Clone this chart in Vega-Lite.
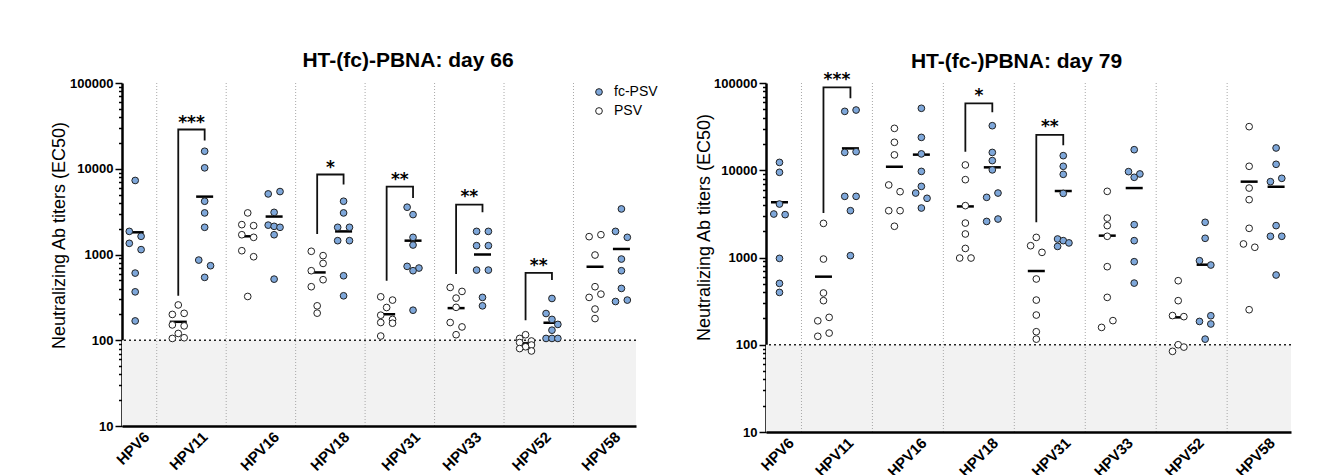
{
  "$schema": "https://vega.github.io/schema/vega-lite/v6.json",
  "background": "white",
  "padding": {"left": 50, "top": 50, "right": 5, "bottom": 5},
  "bounds": "flush",
  "spacing": 130,
  "config": {"font": "Liberation Sans", "view": {"stroke": null}},
  "datasets": {
    "groups": [{"g":"HPV6"},{"g":"HPV11"},{"g":"HPV16"},{"g":"HPV18"},{"g":"HPV31"},{"g":"HPV33"},{"g":"HPV52"}],
    "points": [
      {"p":"d66","g":"HPV6","col":"fc-PSV","v":7300,"lane":0},{"p":"d66","g":"HPV6","col":"fc-PSV","v":1860,"lane":-1},{"p":"d66","g":"HPV6","col":"fc-PSV","v":1630,"lane":1},{"p":"d66","g":"HPV6","col":"fc-PSV","v":1350,"lane":-1},{"p":"d66","g":"HPV6","col":"fc-PSV","v":1140,"lane":1},{"p":"d66","g":"HPV6","col":"fc-PSV","v":607,"lane":0},{"p":"d66","g":"HPV6","col":"fc-PSV","v":367,"lane":0},{"p":"d66","g":"HPV6","col":"fc-PSV","v":168,"lane":0},
      {"p":"d66","g":"HPV11","col":"PSV","v":258,"lane":0},{"p":"d66","g":"HPV11","col":"PSV","v":206,"lane":1},{"p":"d66","g":"HPV11","col":"PSV","v":200,"lane":-1},{"p":"d66","g":"HPV11","col":"PSV","v":151,"lane":-1},{"p":"d66","g":"HPV11","col":"PSV","v":147,"lane":1},{"p":"d66","g":"HPV11","col":"PSV","v":120,"lane":0},{"p":"d66","g":"HPV11","col":"PSV","v":105,"lane":-1},{"p":"d66","g":"HPV11","col":"PSV","v":107,"lane":1},
      {"p":"d66","g":"HPV11","col":"fc-PSV","v":16000,"lane":0},{"p":"d66","g":"HPV11","col":"fc-PSV","v":10250,"lane":0},{"p":"d66","g":"HPV11","col":"fc-PSV","v":4180,"lane":0},{"p":"d66","g":"HPV11","col":"fc-PSV","v":3055,"lane":0},{"p":"d66","g":"HPV11","col":"fc-PSV","v":2075,"lane":0},{"p":"d66","g":"HPV11","col":"fc-PSV","v":861,"lane":-1},{"p":"d66","g":"HPV11","col":"fc-PSV","v":740,"lane":1},{"p":"d66","g":"HPV11","col":"fc-PSV","v":541,"lane":0},
      {"p":"d66","g":"HPV16","col":"PSV","v":3055,"lane":0},{"p":"d66","g":"HPV16","col":"PSV","v":2230,"lane":-1},{"p":"d66","g":"HPV16","col":"PSV","v":2170,"lane":1},{"p":"d66","g":"HPV16","col":"PSV","v":1700,"lane":-1},{"p":"d66","g":"HPV16","col":"PSV","v":1585,"lane":1},{"p":"d66","g":"HPV16","col":"PSV","v":1107,"lane":-1},{"p":"d66","g":"HPV16","col":"PSV","v":942,"lane":1},{"p":"d66","g":"HPV16","col":"PSV","v":324,"lane":0},
      {"p":"d66","g":"HPV16","col":"fc-PSV","v":5090,"lane":-1},{"p":"d66","g":"HPV16","col":"fc-PSV","v":5420,"lane":1},{"p":"d66","g":"HPV16","col":"fc-PSV","v":3100,"lane":0},{"p":"d66","g":"HPV16","col":"fc-PSV","v":2200,"lane":-1},{"p":"d66","g":"HPV16","col":"fc-PSV","v":2130,"lane":0},{"p":"d66","g":"HPV16","col":"fc-PSV","v":2075,"lane":1},{"p":"d66","g":"HPV16","col":"fc-PSV","v":1700,"lane":0},{"p":"d66","g":"HPV16","col":"fc-PSV","v":516,"lane":0},
      {"p":"d66","g":"HPV18","col":"PSV","v":1090,"lane":-1},{"p":"d66","g":"HPV18","col":"PSV","v":970,"lane":1},{"p":"d66","g":"HPV18","col":"PSV","v":787,"lane":1},{"p":"d66","g":"HPV18","col":"PSV","v":647,"lane":-1},{"p":"d66","g":"HPV18","col":"PSV","v":508,"lane":1},{"p":"d66","g":"HPV18","col":"PSV","v":421,"lane":-1},{"p":"d66","g":"HPV18","col":"PSV","v":252,"lane":0},{"p":"d66","g":"HPV18","col":"PSV","v":207,"lane":0},
      {"p":"d66","g":"HPV18","col":"fc-PSV","v":4180,"lane":0},{"p":"d66","g":"HPV18","col":"fc-PSV","v":3055,"lane":0},{"p":"d66","g":"HPV18","col":"fc-PSV","v":2075,"lane":-1},{"p":"d66","g":"HPV18","col":"fc-PSV","v":2075,"lane":1},{"p":"d66","g":"HPV18","col":"fc-PSV","v":1450,"lane":-1},{"p":"d66","g":"HPV18","col":"fc-PSV","v":1450,"lane":1},{"p":"d66","g":"HPV18","col":"fc-PSV","v":565,"lane":0},{"p":"d66","g":"HPV18","col":"fc-PSV","v":330,"lane":0},
      {"p":"d66","g":"HPV31","col":"PSV","v":321,"lane":-1},{"p":"d66","g":"HPV31","col":"PSV","v":294,"lane":1},{"p":"d66","g":"HPV31","col":"PSV","v":241,"lane":0},{"p":"d66","g":"HPV31","col":"PSV","v":196,"lane":-1},{"p":"d66","g":"HPV31","col":"PSV","v":175,"lane":1},{"p":"d66","g":"HPV31","col":"PSV","v":161,"lane":-1},{"p":"d66","g":"HPV31","col":"PSV","v":158,"lane":1},{"p":"d66","g":"HPV31","col":"PSV","v":112,"lane":-1},
      {"p":"d66","g":"HPV31","col":"fc-PSV","v":3560,"lane":-1},{"p":"d66","g":"HPV31","col":"fc-PSV","v":2920,"lane":0},{"p":"d66","g":"HPV31","col":"fc-PSV","v":1585,"lane":0},{"p":"d66","g":"HPV31","col":"fc-PSV","v":1290,"lane":0},{"p":"d66","g":"HPV31","col":"fc-PSV","v":727,"lane":-1},{"p":"d66","g":"HPV31","col":"fc-PSV","v":695,"lane":1},{"p":"d66","g":"HPV31","col":"fc-PSV","v":647,"lane":0},{"p":"d66","g":"HPV31","col":"fc-PSV","v":224,"lane":0},
      {"p":"d66","g":"HPV33","col":"PSV","v":413,"lane":-1},{"p":"d66","g":"HPV33","col":"PSV","v":371,"lane":1},{"p":"d66","g":"HPV33","col":"PSV","v":310,"lane":0},{"p":"d66","g":"HPV33","col":"PSV","v":242,"lane":0},{"p":"d66","g":"HPV33","col":"PSV","v":161,"lane":-1},{"p":"d66","g":"HPV33","col":"PSV","v":143,"lane":1},{"p":"d66","g":"HPV33","col":"PSV","v":116,"lane":0},
      {"p":"d66","g":"HPV33","col":"fc-PSV","v":1860,"lane":-1},{"p":"d66","g":"HPV33","col":"fc-PSV","v":1860,"lane":1},{"p":"d66","g":"HPV33","col":"fc-PSV","v":1268,"lane":-1},{"p":"d66","g":"HPV33","col":"fc-PSV","v":1268,"lane":1},{"p":"d66","g":"HPV33","col":"fc-PSV","v":658,"lane":-1},{"p":"d66","g":"HPV33","col":"fc-PSV","v":658,"lane":1},{"p":"d66","g":"HPV33","col":"fc-PSV","v":316,"lane":0},{"p":"d66","g":"HPV33","col":"fc-PSV","v":252,"lane":0},
      {"p":"d66","g":"HPV52","col":"PSV","v":116,"lane":0},{"p":"d66","g":"HPV52","col":"PSV","v":105,"lane":-1},{"p":"d66","g":"HPV52","col":"PSV","v":98,"lane":1},{"p":"d66","g":"HPV52","col":"PSV","v":94,"lane":-1},{"p":"d66","g":"HPV52","col":"PSV","v":88,"lane":1},{"p":"d66","g":"HPV52","col":"PSV","v":84,"lane":0},{"p":"d66","g":"HPV52","col":"PSV","v":80,"lane":-1},{"p":"d66","g":"HPV52","col":"PSV","v":75,"lane":1},
      {"p":"d66","g":"HPV52","col":"fc-PSV","v":307,"lane":0},{"p":"d66","g":"HPV52","col":"fc-PSV","v":205,"lane":-1},{"p":"d66","g":"HPV52","col":"fc-PSV","v":175,"lane":0},{"p":"d66","g":"HPV52","col":"fc-PSV","v":153,"lane":1},{"p":"d66","g":"HPV52","col":"fc-PSV","v":131,"lane":0},{"p":"d66","g":"HPV52","col":"fc-PSV","v":105,"lane":-1},{"p":"d66","g":"HPV52","col":"fc-PSV","v":105,"lane":0},{"p":"d66","g":"HPV52","col":"fc-PSV","v":105,"lane":1},
      {"p":"d66","g":"HPV58","col":"PSV","v":1615,"lane":-1},{"p":"d66","g":"HPV58","col":"PSV","v":1700,"lane":1},{"p":"d66","g":"HPV58","col":"PSV","v":986,"lane":0},{"p":"d66","g":"HPV58","col":"PSV","v":421,"lane":0},{"p":"d66","g":"HPV58","col":"PSV","v":345,"lane":1},{"p":"d66","g":"HPV58","col":"PSV","v":316,"lane":-1},{"p":"d66","g":"HPV58","col":"PSV","v":231,"lane":0},{"p":"d66","g":"HPV58","col":"PSV","v":179,"lane":0},
      {"p":"d66","g":"HPV58","col":"fc-PSV","v":3400,"lane":0},{"p":"d66","g":"HPV58","col":"fc-PSV","v":1860,"lane":-1},{"p":"d66","g":"HPV58","col":"fc-PSV","v":1585,"lane":1},{"p":"d66","g":"HPV58","col":"fc-PSV","v":885,"lane":0},{"p":"d66","g":"HPV58","col":"fc-PSV","v":647,"lane":0},{"p":"d66","g":"HPV58","col":"fc-PSV","v":402,"lane":0},{"p":"d66","g":"HPV58","col":"fc-PSV","v":283,"lane":-1},{"p":"d66","g":"HPV58","col":"fc-PSV","v":294,"lane":1},

      {"p":"d79","g":"HPV6","col":"fc-PSV","v":12300,"lane":0},{"p":"d79","g":"HPV6","col":"fc-PSV","v":9470,"lane":0},{"p":"d79","g":"HPV6","col":"fc-PSV","v":4100,"lane":0},{"p":"d79","g":"HPV6","col":"fc-PSV","v":3150,"lane":-1},{"p":"d79","g":"HPV6","col":"fc-PSV","v":3100,"lane":1},{"p":"d79","g":"HPV6","col":"fc-PSV","v":977,"lane":0},{"p":"d79","g":"HPV6","col":"fc-PSV","v":505,"lane":0},{"p":"d79","g":"HPV6","col":"fc-PSV","v":398,"lane":0},
      {"p":"d79","g":"HPV11","col":"PSV","v":2460,"lane":0},{"p":"d79","g":"HPV11","col":"PSV","v":960,"lane":0},{"p":"d79","g":"HPV11","col":"PSV","v":392,"lane":0},{"p":"d79","g":"HPV11","col":"PSV","v":320,"lane":0},{"p":"d79","g":"HPV11","col":"PSV","v":206,"lane":1},{"p":"d79","g":"HPV11","col":"PSV","v":188,"lane":-1},{"p":"d79","g":"HPV11","col":"PSV","v":136,"lane":1},{"p":"d79","g":"HPV11","col":"PSV","v":125,"lane":-1},
      {"p":"d79","g":"HPV11","col":"fc-PSV","v":47300,"lane":-1},{"p":"d79","g":"HPV11","col":"fc-PSV","v":49000,"lane":1},{"p":"d79","g":"HPV11","col":"fc-PSV","v":16000,"lane":-1},{"p":"d79","g":"HPV11","col":"fc-PSV","v":16300,"lane":1},{"p":"d79","g":"HPV11","col":"fc-PSV","v":5020,"lane":-1},{"p":"d79","g":"HPV11","col":"fc-PSV","v":5020,"lane":1},{"p":"d79","g":"HPV11","col":"fc-PSV","v":3440,"lane":0},{"p":"d79","g":"HPV11","col":"fc-PSV","v":1050,"lane":0},
      {"p":"d79","g":"HPV16","col":"PSV","v":30200,"lane":0},{"p":"d79","g":"HPV16","col":"PSV","v":20900,"lane":0},{"p":"d79","g":"HPV16","col":"PSV","v":15000,"lane":0},{"p":"d79","g":"HPV16","col":"PSV","v":6780,"lane":-1},{"p":"d79","g":"HPV16","col":"PSV","v":5680,"lane":1},{"p":"d79","g":"HPV16","col":"PSV","v":3440,"lane":-1},{"p":"d79","g":"HPV16","col":"PSV","v":3440,"lane":1},{"p":"d79","g":"HPV16","col":"PSV","v":2280,"lane":0},
      {"p":"d79","g":"HPV16","col":"fc-PSV","v":51300,"lane":0},{"p":"d79","g":"HPV16","col":"fc-PSV","v":23800,"lane":0},{"p":"d79","g":"HPV16","col":"fc-PSV","v":15400,"lane":0},{"p":"d79","g":"HPV16","col":"fc-PSV","v":9700,"lane":0},{"p":"d79","g":"HPV16","col":"fc-PSV","v":6530,"lane":0},{"p":"d79","g":"HPV16","col":"fc-PSV","v":5480,"lane":-1},{"p":"d79","g":"HPV16","col":"fc-PSV","v":4770,"lane":1},{"p":"d79","g":"HPV16","col":"fc-PSV","v":3690,"lane":0},
      {"p":"d79","g":"HPV18","col":"PSV","v":11500,"lane":0},{"p":"d79","g":"HPV18","col":"PSV","v":7800,"lane":0},{"p":"d79","g":"HPV18","col":"PSV","v":3930,"lane":0},{"p":"d79","g":"HPV18","col":"PSV","v":2480,"lane":0},{"p":"d79","g":"HPV18","col":"PSV","v":1860,"lane":0},{"p":"d79","g":"HPV18","col":"PSV","v":1270,"lane":0},{"p":"d79","g":"HPV18","col":"PSV","v":986,"lane":-1},{"p":"d79","g":"HPV18","col":"PSV","v":986,"lane":1},
      {"p":"d79","g":"HPV18","col":"fc-PSV","v":32400,"lane":0},{"p":"d79","g":"HPV18","col":"fc-PSV","v":16000,"lane":0},{"p":"d79","g":"HPV18","col":"fc-PSV","v":12900,"lane":0},{"p":"d79","g":"HPV18","col":"fc-PSV","v":10100,"lane":0},{"p":"d79","g":"HPV18","col":"fc-PSV","v":5480,"lane":1},{"p":"d79","g":"HPV18","col":"fc-PSV","v":4890,"lane":-1},{"p":"d79","g":"HPV18","col":"fc-PSV","v":2760,"lane":1},{"p":"d79","g":"HPV18","col":"fc-PSV","v":2590,"lane":-1},
      {"p":"d79","g":"HPV31","col":"PSV","v":1700,"lane":0},{"p":"d79","g":"HPV31","col":"PSV","v":1365,"lane":-1},{"p":"d79","g":"HPV31","col":"PSV","v":1145,"lane":1},{"p":"d79","g":"HPV31","col":"PSV","v":567,"lane":0},{"p":"d79","g":"HPV31","col":"PSV","v":325,"lane":0},{"p":"d79","g":"HPV31","col":"PSV","v":219,"lane":0},{"p":"d79","g":"HPV31","col":"PSV","v":141,"lane":0},{"p":"d79","g":"HPV31","col":"PSV","v":116,"lane":0},
      {"p":"d79","g":"HPV31","col":"fc-PSV","v":14700,"lane":0},{"p":"d79","g":"HPV31","col":"fc-PSV","v":11100,"lane":0},{"p":"d79","g":"HPV31","col":"fc-PSV","v":8980,"lane":0},{"p":"d79","g":"HPV31","col":"fc-PSV","v":5430,"lane":0},{"p":"d79","g":"HPV31","col":"fc-PSV","v":1630,"lane":-1},{"p":"d79","g":"HPV31","col":"fc-PSV","v":1560,"lane":0},{"p":"d79","g":"HPV31","col":"fc-PSV","v":1470,"lane":1},{"p":"d79","g":"HPV31","col":"fc-PSV","v":1340,"lane":-1},
      {"p":"d79","g":"HPV33","col":"PSV","v":5730,"lane":0},{"p":"d79","g":"HPV33","col":"PSV","v":2830,"lane":0},{"p":"d79","g":"HPV33","col":"PSV","v":2320,"lane":0},{"p":"d79","g":"HPV33","col":"PSV","v":1750,"lane":0},{"p":"d79","g":"HPV33","col":"PSV","v":785,"lane":0},{"p":"d79","g":"HPV33","col":"PSV","v":349,"lane":0},{"p":"d79","g":"HPV33","col":"PSV","v":189,"lane":1},{"p":"d79","g":"HPV33","col":"PSV","v":158,"lane":-1},
      {"p":"d79","g":"HPV33","col":"fc-PSV","v":17200,"lane":0},{"p":"d79","g":"HPV33","col":"fc-PSV","v":9640,"lane":-1},{"p":"d79","g":"HPV33","col":"fc-PSV","v":9070,"lane":1},{"p":"d79","g":"HPV33","col":"fc-PSV","v":8300,"lane":0},{"p":"d79","g":"HPV33","col":"fc-PSV","v":2380,"lane":0},{"p":"d79","g":"HPV33","col":"fc-PSV","v":1560,"lane":0},{"p":"d79","g":"HPV33","col":"fc-PSV","v":895,"lane":0},{"p":"d79","g":"HPV33","col":"fc-PSV","v":509,"lane":0},
      {"p":"d79","g":"HPV52","col":"PSV","v":542,"lane":0},{"p":"d79","g":"HPV52","col":"PSV","v":320,"lane":0},{"p":"d79","g":"HPV52","col":"PSV","v":216,"lane":-1},{"p":"d79","g":"HPV52","col":"PSV","v":210,"lane":1},{"p":"d79","g":"HPV52","col":"PSV","v":100,"lane":0},{"p":"d79","g":"HPV52","col":"PSV","v":94,"lane":1},{"p":"d79","g":"HPV52","col":"PSV","v":84,"lane":-1},
      {"p":"d79","g":"HPV52","col":"fc-PSV","v":2530,"lane":0},{"p":"d79","g":"HPV52","col":"fc-PSV","v":1660,"lane":0},{"p":"d79","g":"HPV52","col":"fc-PSV","v":919,"lane":-1},{"p":"d79","g":"HPV52","col":"fc-PSV","v":820,"lane":1},{"p":"d79","g":"HPV52","col":"fc-PSV","v":215,"lane":1},{"p":"d79","g":"HPV52","col":"fc-PSV","v":185,"lane":-1},{"p":"d79","g":"HPV52","col":"fc-PSV","v":173,"lane":1},{"p":"d79","g":"HPV52","col":"fc-PSV","v":116,"lane":0},
      {"p":"d79","g":"HPV58","col":"PSV","v":31600,"lane":0},{"p":"d79","g":"HPV58","col":"PSV","v":11100,"lane":0},{"p":"d79","g":"HPV58","col":"PSV","v":6250,"lane":0},{"p":"d79","g":"HPV58","col":"PSV","v":4600,"lane":0},{"p":"d79","g":"HPV58","col":"PSV","v":2160,"lane":0},{"p":"d79","g":"HPV58","col":"PSV","v":1430,"lane":-1},{"p":"d79","g":"HPV58","col":"PSV","v":1310,"lane":1},{"p":"d79","g":"HPV58","col":"PSV","v":252,"lane":0},
      {"p":"d79","g":"HPV58","col":"fc-PSV","v":18000,"lane":0},{"p":"d79","g":"HPV58","col":"fc-PSV","v":11700,"lane":0},{"p":"d79","g":"HPV58","col":"fc-PSV","v":8080,"lane":1},{"p":"d79","g":"HPV58","col":"fc-PSV","v":7400,"lane":-1},{"p":"d79","g":"HPV58","col":"fc-PSV","v":2320,"lane":0},{"p":"d79","g":"HPV58","col":"fc-PSV","v":1750,"lane":-1},{"p":"d79","g":"HPV58","col":"fc-PSV","v":1750,"lane":1},{"p":"d79","g":"HPV58","col":"fc-PSV","v":630,"lane":0}
    ],
    "means": [
      {"p":"d66","g":"HPV6","col":"fc-PSV","v":1815},
      {"p":"d66","g":"HPV11","col":"PSV","v":164},{"p":"d66","g":"HPV11","col":"fc-PSV","v":4730},
      {"p":"d66","g":"HPV16","col":"PSV","v":1630},{"p":"d66","g":"HPV16","col":"fc-PSV","v":2770},
      {"p":"d66","g":"HPV18","col":"PSV","v":618},{"p":"d66","g":"HPV18","col":"fc-PSV","v":1860},
      {"p":"d66","g":"HPV31","col":"PSV","v":201},{"p":"d66","g":"HPV31","col":"fc-PSV","v":1450},
      {"p":"d66","g":"HPV33","col":"PSV","v":237},{"p":"d66","g":"HPV33","col":"fc-PSV","v":1000},
      {"p":"d66","g":"HPV52","col":"PSV","v":92},{"p":"d66","g":"HPV52","col":"fc-PSV","v":160},
      {"p":"d66","g":"HPV58","col":"PSV","v":720},{"p":"d66","g":"HPV58","col":"fc-PSV","v":1160},
      {"p":"d79","g":"HPV6","col":"fc-PSV","v":4290},
      {"p":"d79","g":"HPV11","col":"PSV","v":603},{"p":"d79","g":"HPV11","col":"fc-PSV","v":17800},
      {"p":"d79","g":"HPV16","col":"PSV","v":11000},{"p":"d79","g":"HPV16","col":"fc-PSV","v":15100},
      {"p":"d79","g":"HPV18","col":"PSV","v":3850},{"p":"d79","g":"HPV18","col":"fc-PSV","v":10800},
      {"p":"d79","g":"HPV31","col":"PSV","v":700},{"p":"d79","g":"HPV31","col":"fc-PSV","v":5780},
      {"p":"d79","g":"HPV33","col":"PSV","v":1780},{"p":"d79","g":"HPV33","col":"fc-PSV","v":6250},
      {"p":"d79","g":"HPV52","col":"PSV","v":206},{"p":"d79","g":"HPV52","col":"fc-PSV","v":827},
      {"p":"d79","g":"HPV58","col":"PSV","v":7400},{"p":"d79","g":"HPV58","col":"fc-PSV","v":6490}
    ],
    "brackets": [
      {"p":"d66","g":"HPV11","col":"PSV","v":330,"o":1},{"p":"d66","g":"HPV11","col":"PSV","v":28700,"o":2},{"p":"d66","g":"HPV11","col":"fc-PSV","v":28700,"o":3},{"p":"d66","g":"HPV11","col":"fc-PSV","v":21400,"o":4},
      {"p":"d66","g":"HPV18","col":"PSV","v":1735,"o":1},{"p":"d66","g":"HPV18","col":"PSV","v":8570,"o":2},{"p":"d66","g":"HPV18","col":"fc-PSV","v":8570,"o":3},{"p":"d66","g":"HPV18","col":"fc-PSV","v":6550,"o":4},
      {"p":"d66","g":"HPV31","col":"PSV","v":494,"o":1},{"p":"d66","g":"HPV31","col":"PSV","v":6200,"o":2},{"p":"d66","g":"HPV31","col":"fc-PSV","v":6200,"o":3},{"p":"d66","g":"HPV31","col":"fc-PSV","v":4570,"o":4},
      {"p":"d66","g":"HPV33","col":"PSV","v":592,"o":1},{"p":"d66","g":"HPV33","col":"PSV","v":3820,"o":2},{"p":"d66","g":"HPV33","col":"fc-PSV","v":3820,"o":3},{"p":"d66","g":"HPV33","col":"fc-PSV","v":3100,"o":4},
      {"p":"d66","g":"HPV52","col":"PSV","v":171,"o":1},{"p":"d66","g":"HPV52","col":"PSV","v":612,"o":2},{"p":"d66","g":"HPV52","col":"fc-PSV","v":612,"o":3},{"p":"d66","g":"HPV52","col":"fc-PSV","v":503,"o":4},
      {"p":"d79","g":"HPV11","col":"PSV","v":3240,"o":1},{"p":"d79","g":"HPV11","col":"PSV","v":89000,"o":2},{"p":"d79","g":"HPV11","col":"fc-PSV","v":89000,"o":3},{"p":"d79","g":"HPV11","col":"fc-PSV","v":66700,"o":4},
      {"p":"d79","g":"HPV18","col":"PSV","v":16300,"o":1},{"p":"d79","g":"HPV18","col":"PSV","v":58500,"o":2},{"p":"d79","g":"HPV18","col":"fc-PSV","v":58500,"o":3},{"p":"d79","g":"HPV18","col":"fc-PSV","v":46100,"o":4},
      {"p":"d79","g":"HPV31","col":"PSV","v":2530,"o":1},{"p":"d79","g":"HPV31","col":"PSV","v":25400,"o":2},{"p":"d79","g":"HPV31","col":"fc-PSV","v":25400,"o":3},{"p":"d79","g":"HPV31","col":"fc-PSV","v":19400,"o":4}
    ],
    "stars": [
      {"p":"d66","g":"HPV11","s":"***","v":37800},
      {"p":"d66","g":"HPV18","s":"*","v":11400},
      {"p":"d66","g":"HPV31","s":"**","v":8190},
      {"p":"d66","g":"HPV33","s":"**","v":5180},
      {"p":"d66","g":"HPV52","s":"**","v":817},
      {"p":"d79","g":"HPV11","s":"***","v":121000},
      {"p":"d79","g":"HPV18","s":"*","v":78200},
      {"p":"d79","g":"HPV31","s":"**","v":34800}
    ]
  },
  "resolve": {"scale": {"x": "independent", "y": "independent", "fill": "independent"}, "legend": {"fill": "independent"}},
  "hconcat": [
    {
      "width": 514,
      "height": 343,
      "title": {"text": "HT-(fc)-PBNA: day 66", "fontSize": 21, "fontWeight": "bold", "color": "#000", "dx": 29, "offset": 6},
      "layer": [
        {"data": {"values": [{}]}, "mark": {"type": "rect", "color": "#f2f2f2"},
         "encoding": {"y": {"datum": 10, "type": "quantitative", "scale": {"type": "log", "domain": [10, 100000], "nice": false}}, "y2": {"datum": 100}}},
        {"data": {"name": "groups"},
         "transform": [{"calculate": "indexof(['HPV6','HPV11','HPV16','HPV18','HPV31','HPV33','HPV52','HPV58'], datum.g) + 0.5", "as": "pos"}],
         "mark": {"type": "rule", "color": "#a8a8a8", "strokeWidth": 1, "strokeDash": [1, 2]},
         "encoding": {"x": {"field": "pos", "type": "quantitative", "scale": {"domain": [0, 7.4], "nice": false, "zero": false}}}},
        {"data": {"values": [{}]}, "mark": {"type": "rule", "strokeDash": [2, 3], "strokeWidth": 1.6, "color": "#222"},
         "encoding": {"y": {"datum": 100, "type": "quantitative", "scale": {"type": "log", "domain": [10, 100000], "nice": false}}}},
        {"data": {"name": "brackets"},
         "transform": [{"filter": "datum.p == 'd66'"}, {"calculate": "indexof(['HPV6','HPV11','HPV16','HPV18','HPV31','HPV33','HPV52','HPV58'], datum.g) + (datum.col == 'PSV' ? -0.19 : 0.19)", "as": "pos"}],
         "mark": {"type": "line", "color": "#111", "strokeWidth": 1.8},
         "encoding": {"x": {"field": "pos", "type": "quantitative", "scale": {"domain": [0, 7.4], "nice": false, "zero": false}},
                      "y": {"field": "v", "type": "quantitative", "scale": {"type": "log", "domain": [10, 100000], "nice": false}},
                      "detail": {"field": "g"}, "order": {"field": "o"}}},
        {"data": {"name": "means"},
         "transform": [{"filter": "datum.p == 'd66'"}, {"calculate": "indexof(['HPV6','HPV11','HPV16','HPV18','HPV31','HPV33','HPV52','HPV58'], datum.g) + (datum.col == 'PSV' ? -0.19 : 0.19)", "as": "pos"}],
         "mark": {"type": "tick", "orient": "horizontal", "size": 17, "thickness": 2.5, "color": "#000", "opacity": 1},
         "encoding": {"x": {"field": "pos", "type": "quantitative", "scale": {"domain": [0, 7.4], "nice": false, "zero": false}},
                      "y": {"field": "v", "type": "quantitative", "scale": {"type": "log", "domain": [10, 100000], "nice": false}}}},
        {"data": {"name": "points"},
         "transform": [{"filter": "datum.p == 'd66'"}, {"calculate": "indexof(['HPV6','HPV11','HPV16','HPV18','HPV31','HPV33','HPV52','HPV58'], datum.g) + (datum.col == 'PSV' ? -0.19 : 0.19) + datum.lane * 0.085", "as": "pos"}],
         "mark": {"type": "circle", "size": 45, "stroke": "#222", "strokeWidth": 1, "opacity": 1},
         "encoding": {
           "x": {"field": "pos", "type": "quantitative", "scale": {"domain": [0, 7.4], "nice": false, "zero": false},
                 "axis": {"title": null, "values": [0.35, 1.19, 2.22, 3.23, 4.25, 5.13, 6.13, 7.13],
                          "labelExpr": "['HPV6','HPV11','HPV16','HPV18','HPV31','HPV33','HPV52','HPV58'][floor(datum.value)]",
                          "labelAngle": -45, "labelAlign": "right", "labelBaseline": "middle", "labelFontSize": 15, "labelFontWeight": "bold", "labelColor": "#000",
                          "labelPadding": 8, "labelOverlap": false, "labelBound": false, "ticks": false, "domainColor": "#000", "domainWidth": 2.5,
                          "grid": false, "zindex": 1}},
           "y": {"field": "v", "type": "quantitative", "scale": {"type": "log", "domain": [10, 100000], "nice": false},
                 "axis": {"title": "Neutralizing Ab titers (EC50)", "titleFontSize": 18, "titleFontWeight": "normal", "titleColor": "#000",
                          "titleX": -62.5, "titleY": 152, "titleBaseline": "middle",
                          "values": [10,20,30,40,50,60,70,80,90,100,200,300,400,500,600,700,800,900,1000,2000,3000,4000,5000,6000,7000,8000,9000,10000,20000,30000,40000,50000,60000,70000,80000,90000,100000],
                          "labelExpr": "indexof([10,100,1000,10000,100000], datum.value) >= 0 ? format(datum.value, 'd') : ''",
                          "labelFontSize": 13, "labelFontWeight": "bold", "labelColor": "#000", "labelPadding": 2, "labelOverlap": false,
                          "tickColor": "#000", "tickWidth": 1.5,
                          "tickSize": {"condition": {"test": "indexof([10,100,1000,10000,100000], datum.value) >= 0", "value": 7}, "value": 3.5},
                          "domainColor": "#000", "domainWidth": 2.5, "grid": false}},
           "fill": {"field": "col", "type": "nominal", "scale": {"domain": ["fc-PSV", "PSV"], "range": ["#7ea7da", "#ffffff"]},
                    "legend": {"orient": "none", "legendX": 470, "legendY": 2, "title": null, "labelFontSize": 14, "labelColor": "#000",
                               "symbolSize": 45, "symbolStrokeColor": "#222", "symbolStrokeWidth": 1, "rowPadding": 5, "labelOffset": 8}}}},
        {"data": {"name": "stars"},
         "transform": [{"filter": "datum.p == 'd66'"}, {"calculate": "indexof(['HPV6','HPV11','HPV16','HPV18','HPV31','HPV33','HPV52','HPV58'], datum.g)", "as": "pos"}],
         "mark": {"type": "text", "font": "DejaVu Sans", "fontSize": 17, "fontWeight": "bold", "baseline": "middle", "dy": 4, "color": "#000"},
         "encoding": {"x": {"field": "pos", "type": "quantitative", "scale": {"domain": [0, 7.4], "nice": false, "zero": false}},
                      "y": {"field": "v", "type": "quantitative", "scale": {"type": "log", "domain": [10, 100000], "nice": false}},
                      "text": {"field": "s"}}}
      ]
    },
    {
      "width": 525,
      "height": 349,
      "title": {"text": "HT-(fc-)PBNA: day 79", "fontSize": 21, "fontWeight": "bold", "color": "#000", "dx": -12, "offset": -1},
      "layer": [
        {"data": {"values": [{}]}, "mark": {"type": "rect", "color": "#f2f2f2"},
         "encoding": {"y": {"datum": 10, "type": "quantitative", "scale": {"type": "log", "domain": [10, 100000], "nice": false}}, "y2": {"datum": 100}}},
        {"data": {"name": "groups"},
         "transform": [{"calculate": "indexof(['HPV6','HPV11','HPV16','HPV18','HPV31','HPV33','HPV52','HPV58'], datum.g) + 0.5", "as": "pos"}],
         "mark": {"type": "rule", "color": "#a8a8a8", "strokeWidth": 1, "strokeDash": [1, 2]},
         "encoding": {"x": {"field": "pos", "type": "quantitative", "scale": {"domain": [0, 7.4], "nice": false, "zero": false}}}},
        {"data": {"values": [{}]}, "mark": {"type": "rule", "strokeDash": [2, 3], "strokeWidth": 1.6, "color": "#222"},
         "encoding": {"y": {"datum": 100, "type": "quantitative", "scale": {"type": "log", "domain": [10, 100000], "nice": false}}}},
        {"data": {"name": "brackets"},
         "transform": [{"filter": "datum.p == 'd79'"}, {"calculate": "indexof(['HPV6','HPV11','HPV16','HPV18','HPV31','HPV33','HPV52','HPV58'], datum.g) + (datum.col == 'PSV' ? -0.19 : 0.19)", "as": "pos"}],
         "mark": {"type": "line", "color": "#111", "strokeWidth": 1.8},
         "encoding": {"x": {"field": "pos", "type": "quantitative", "scale": {"domain": [0, 7.4], "nice": false, "zero": false}},
                      "y": {"field": "v", "type": "quantitative", "scale": {"type": "log", "domain": [10, 100000], "nice": false}},
                      "detail": {"field": "g"}, "order": {"field": "o"}}},
        {"data": {"name": "means"},
         "transform": [{"filter": "datum.p == 'd79'"}, {"calculate": "indexof(['HPV6','HPV11','HPV16','HPV18','HPV31','HPV33','HPV52','HPV58'], datum.g) + (datum.col == 'PSV' ? -0.19 : 0.19)", "as": "pos"}],
         "mark": {"type": "tick", "orient": "horizontal", "size": 17, "thickness": 2.5, "color": "#000", "opacity": 1},
         "encoding": {"x": {"field": "pos", "type": "quantitative", "scale": {"domain": [0, 7.4], "nice": false, "zero": false}},
                      "y": {"field": "v", "type": "quantitative", "scale": {"type": "log", "domain": [10, 100000], "nice": false}}}},
        {"data": {"name": "points"},
         "transform": [{"filter": "datum.p == 'd79'"}, {"calculate": "indexof(['HPV6','HPV11','HPV16','HPV18','HPV31','HPV33','HPV52','HPV58'], datum.g) + (datum.col == 'PSV' ? -0.19 : 0.19) + datum.lane * 0.08", "as": "pos"}],
         "mark": {"type": "circle", "size": 45, "stroke": "#222", "strokeWidth": 1, "opacity": 1},
         "encoding": {
           "x": {"field": "pos", "type": "quantitative", "scale": {"domain": [0, 7.4], "nice": false, "zero": false},
                 "axis": {"title": null, "values": [0.35, 1.19, 2.22, 3.23, 4.25, 5.13, 6.13, 7.13],
                          "labelExpr": "['HPV6','HPV11','HPV16','HPV18','HPV31','HPV33','HPV52','HPV58'][floor(datum.value)]",
                          "labelAngle": -45, "labelAlign": "right", "labelBaseline": "middle", "labelFontSize": 15, "labelFontWeight": "bold", "labelColor": "#000",
                          "labelPadding": 8, "labelOverlap": false, "labelBound": false, "ticks": false, "domainColor": "#000", "domainWidth": 2.5,
                          "grid": false, "zindex": 1}},
           "y": {"field": "v", "type": "quantitative", "scale": {"type": "log", "domain": [10, 100000], "nice": false},
                 "axis": {"title": "Neutralizing Ab titers (EC50)", "titleFontSize": 18, "titleFontWeight": "normal", "titleColor": "#000",
                          "titleX": -61.5, "titleY": 144, "titleBaseline": "middle",
                          "values": [10,20,30,40,50,60,70,80,90,100,200,300,400,500,600,700,800,900,1000,2000,3000,4000,5000,6000,7000,8000,9000,10000,20000,30000,40000,50000,60000,70000,80000,90000,100000],
                          "labelExpr": "indexof([10,100,1000,10000,100000], datum.value) >= 0 ? format(datum.value, 'd') : ''",
                          "labelFontSize": 13, "labelFontWeight": "bold", "labelColor": "#000", "labelPadding": 2, "labelOverlap": false,
                          "tickColor": "#000", "tickWidth": 1.5,
                          "tickSize": {"condition": {"test": "indexof([10,100,1000,10000,100000], datum.value) >= 0", "value": 7}, "value": 3.5},
                          "domainColor": "#000", "domainWidth": 2.5, "grid": false}},
           "fill": {"field": "col", "type": "nominal", "scale": {"domain": ["fc-PSV", "PSV"], "range": ["#7ea7da", "#ffffff"]}, "legend": null}}},
        {"data": {"name": "stars"},
         "transform": [{"filter": "datum.p == 'd79'"}, {"calculate": "indexof(['HPV6','HPV11','HPV16','HPV18','HPV31','HPV33','HPV52','HPV58'], datum.g)", "as": "pos"}],
         "mark": {"type": "text", "font": "DejaVu Sans", "fontSize": 17, "fontWeight": "bold", "baseline": "middle", "dy": 4, "color": "#000"},
         "encoding": {"x": {"field": "pos", "type": "quantitative", "scale": {"domain": [0, 7.4], "nice": false, "zero": false}},
                      "y": {"field": "v", "type": "quantitative", "scale": {"type": "log", "domain": [10, 100000], "nice": false}},
                      "text": {"field": "s"}}}
      ]
    }
  ]
}
